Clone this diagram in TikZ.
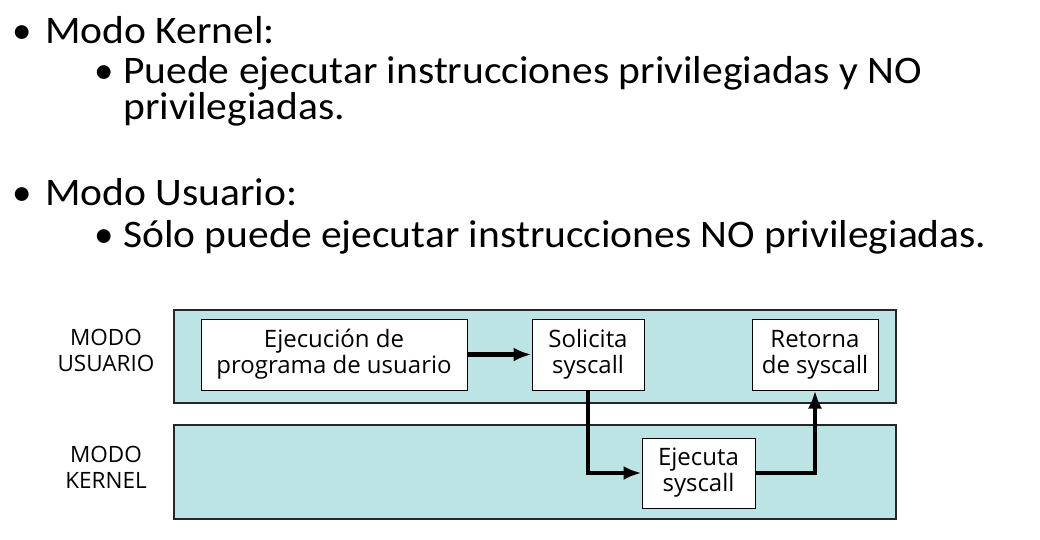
\documentclass[tikz,border=0pt]{standalone}
\usepackage{fontspec}
\setmainfont{Carlito}
\newfontfamily\diagfont{Open Sans}
\usetikzlibrary{positioning,arrows.meta}
\definecolor{modofill}{RGB}{188,228,228}
\tikzset{
  band/.style={draw=black!85, line width=2pt, fill=modofill,
    minimum width=722pt, minimum height=93pt, inner sep=0pt},
  paso/.style={draw=black, line width=1pt, fill=white, align=center,
    font=\diagfont\fontsize{24}{26}\selectfont, minimum height=71pt, inner sep=0pt},
  flecha/.style={line width=4.5pt, -{Latex[length=18pt,width=14pt]}},
  modo/.style={font=\diagfont\fontsize{22.5}{26}\selectfont, align=center},
  punto/.style={anchor=base, inner sep=0pt},
  texto/.style={anchor=base west, inner sep=0pt, xscale=1.065},
}
\begin{document}
\begin{tikzpicture}[x=1pt,y=-1pt]
    \useasboundingbox (0,0) rectangle (1040,539);
    %
    \begin{scope}[font=\fontsize{39}{36}\selectfont]
    \node[punto] (b1) at (22,43) {•};
    \node[texto] (kernel) at (45,43) {Modo Kernel:};
    \node[punto] (b2) at (22,205) {•};
    \node[texto] (usuario) at (45,205) {Modo Usuario:};
    %
    \node[punto] (b11) at (104,83) {•};
    % base = baseline of the last line
    \node[texto, align=left] (k1) at (123,119) {Puede ejecutar instrucciones privilegiadas y NO\\privilegiadas.};
    \node[punto] (b21) at (104,247) {•};
    \node[texto] (u1) at (123,247) {Sólo puede ejecutar instrucciones NO privilegiadas.};
    \end{scope}
    %%%%%%%%%%%%%%%%%%%%%%
    \node[band] (bandU) at (535,356.5) {};
    \node[band, minimum height=94pt] (bandK) at (535,472) {};
    %
    \node[modo] (lblU) at (106,350) {MODO\\USUARIO};
    \node[modo] (lblK) at (106,467) {MODO\\KERNEL};
    %%%%%%%%%%%%%%%%%%%%%%
    \node[paso, minimum width=266pt] (ejec) at (334,354.5) {Ejecución de\\programa de usuario};
    \node[paso, minimum width=112pt] (solic) at (588,354.5) {Solicita\\syscall};
    \node[paso, minimum width=126pt] (retor) at (815,354.5) {Retorna\\de syscall};
    \node[paso, minimum width=113pt, minimum height=70pt] (ejecuta) at (698.5,473) {Ejecuta\\syscall};
    %
    \draw[flecha] (ejec) -- (solic);
    \draw[flecha] (solic.south) |- (ejecuta.west);
    \draw[flecha] (ejecuta.east) -| (retor.south);
  \end{tikzpicture}
\end{document}
